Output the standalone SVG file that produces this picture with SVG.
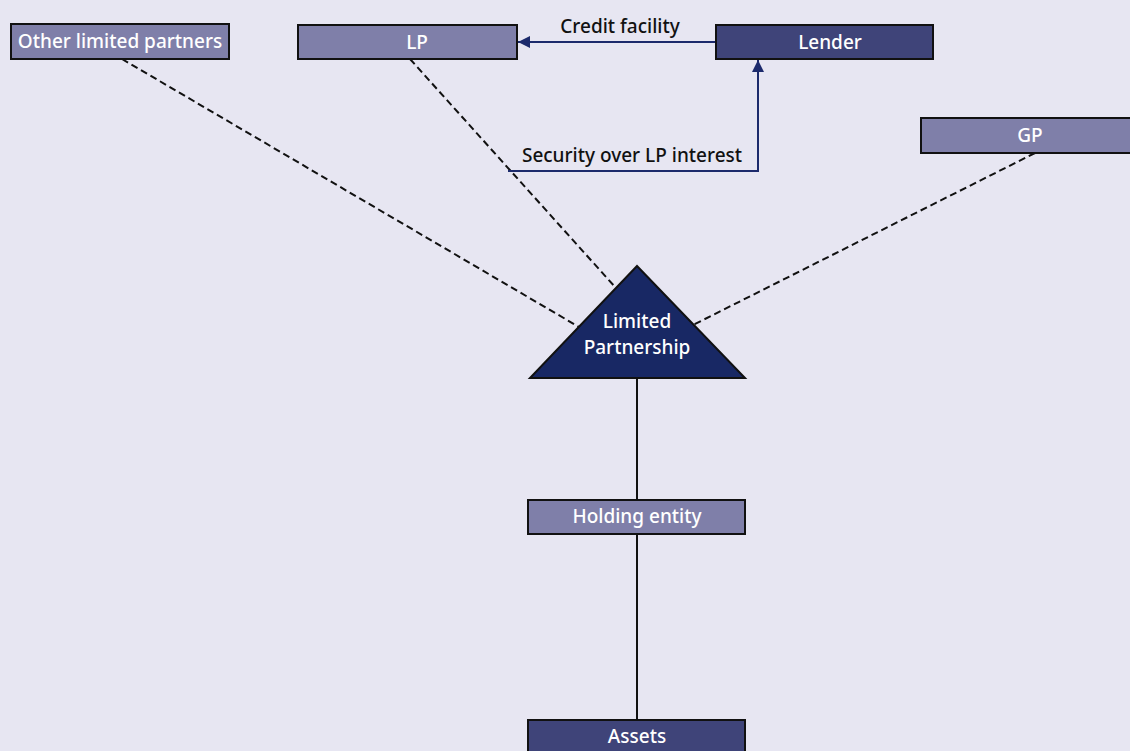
<svg xmlns="http://www.w3.org/2000/svg" width="1130" height="751" viewBox="0 0 1130 751">
<defs>
<style>
.bg{fill:#e7e6f2}
.light{fill:#7f7fa9;stroke:#111;stroke-width:2}
.dark{fill:#3f4479;stroke:#111;stroke-width:2}
.tri{fill:#182864;stroke:#111;stroke-width:2}
.t{font-family:"Noto Sans","Open Sans",sans-serif;font-size:19px;font-weight:500;fill:#fff;text-anchor:middle}
.lbl{font-family:"Noto Sans","Open Sans",sans-serif;font-size:19px;font-weight:500;fill:#111;text-anchor:middle}
.dash{stroke:#111;stroke-width:2;stroke-dasharray:7 4;fill:none}
.solid{stroke:#111;stroke-width:2;fill:none}
.navy{stroke:#1c2a6c;stroke-width:2;fill:none}
</style>
<marker id="arr" viewBox="0 0 10 10" refX="10" refY="5" markerWidth="6" markerHeight="6" markerUnits="strokeWidth" orient="auto">
<path d="M0,0 L10,5 L0,10 z" fill="#1c2a6c"/>
</marker>
</defs>
<rect class="bg" x="0" y="0" width="1130" height="751"/>
<g id="connectors">
<line class="dash" x1="122" y1="59" x2="579" y2="327"/>
<line class="dash" x1="410" y1="59" x2="616" y2="288"/>
<line class="dash" x1="1035" y1="153" x2="693" y2="325"/>
<line class="solid" x1="637" y1="378" x2="637" y2="500"/>
<line class="solid" x1="637" y1="534" x2="637" y2="720"/>
<line class="navy" x1="716" y1="42" x2="518" y2="42" marker-end="url(#arr)"/>
<polyline class="navy" points="508,171 758,171 758,60" marker-end="url(#arr)"/>
<text class="lbl" x="620" y="33">Credit facility</text>
<text class="lbl" x="632" y="162">Security over LP interest</text>
</g>
<g id="other-lps">
<rect class="light" x="11" y="24" width="218" height="35"/>
<text class="t" x="120" y="48">Other limited partners</text>
</g>
<g id="lp">
<rect class="light" x="298" y="25" width="219" height="34"/>
<text class="t" x="417" y="49">LP</text>
</g>
<g id="lender">
<rect class="dark" x="716" y="25" width="217" height="34"/>
<text class="t" x="830" y="49">Lender</text>
</g>
<g id="gp">
<rect class="light" x="921" y="118" width="214" height="35"/>
<text class="t" x="1030" y="142">GP</text>
</g>
<g id="limited-partnership">
<polygon class="tri" points="637,266 530,378 745,378"/>
<text class="t" x="637" y="328">Limited</text>
<text class="t" x="637" y="354">Partnership</text>
</g>
<g id="holding-entity">
<rect class="light" x="528" y="500" width="217" height="34"/>
<text class="t" x="637" y="523">Holding entity</text>
</g>
<g id="assets">
<rect class="dark" x="528" y="720" width="217" height="40"/>
<text class="t" x="637" y="743">Assets</text>
</g>
</svg>
